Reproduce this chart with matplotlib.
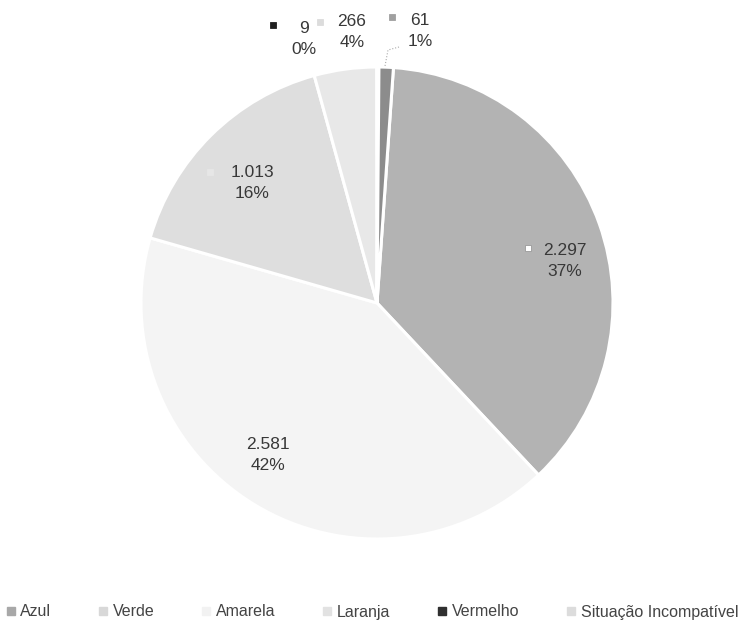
import matplotlib.pyplot as plt
from matplotlib.lines import Line2D

plt.rcParams['font.family'] = ['Liberation Sans', 'DejaVu Sans']

# data
categories = ['Azul', 'Verde', 'Amarela', 'Laranja', 'Vermelho', 'Situação Incompatível']
values = [2297, 2581, 1013, 266, 9, 61]
percents = [37, 42, 16, 4, 0, 1]

slice_colors = ['#b3b3b3', '#f4f4f4', '#dedede', '#e8e8e8', '#505050', '#8c8c8c']
legend_colors = ['#a8a8a8', '#d8d8d8', '#f2f2f2', '#e2e2e2', '#303030', '#dcdcdc']
key_colors = ['#ffffff', '#f4f4f4', '#e6e6e6', '#dcdcdc', '#202020', '#a0a0a0']

# pixel layout of the reference (centre of pie and radius)
CX, CY, R = 377, 303, 236
W, H = 738, 644


def px(x, y):
    return (x - CX) / R, (CY - y) / R


# label centres and legend-key positions in pixels
label_pos = [(565, 261), (268, 455), (252, 183), (352, 32), (304, 39), (420, 31)]
key_pos = [(528, 248), None, (210, 172), (320, 22), (273, 25), (392, 17)]

fig = plt.figure(figsize=(W / 100, H / 100), dpi=100)
ax = fig.add_axes([0, 0, 1, 1])
ax.axis('off')

ax.pie(values, colors=slice_colors, startangle=86, counterclock=False,
       radius=1.0, center=(0, 0), frame=False,
       wedgeprops=dict(edgecolor='white', linewidth=2.2))
ax.set_xlim(-CX / R, (W - CX) / R)
ax.set_ylim((CY - H) / R, CY / R)
ax.set_aspect('auto')

for i, v in enumerate(values):
    txt = f"{v:,}".replace(',', '.') + "\n" + f"{percents[i]}%"
    x, y = px(*label_pos[i])
    ax.text(x, y, txt, ha='center', va='center', fontsize=12.5,
            color='#383838', linespacing=1.45)
    if key_pos[i] is not None:
        kx, ky = px(*key_pos[i])
        ax.plot(kx, ky, marker='s', ms=5, color=key_colors[i],
                markeredgecolor='#999999' if i == 0 else key_colors[i], mew=0.6)

# leader line for the small slice
lx, ly = zip(*[px(399, 47), px(388, 50), px(385, 66)])
ax.plot(lx, ly, color='#aaaaaa', lw=0.8, ls=':')

handles = [Line2D([], [], marker='s', ls='none', ms=6, color=c) for c in legend_colors]
fig.legend(handles, categories, loc='center', ncol=6,
           bbox_to_anchor=(372 / W, 1 - 612 / H), frameon=False,
           fontsize=11.5, handlelength=0.6, handletextpad=0.3,
           columnspacing=2.95, labelcolor='#444444')

fig.savefig('out.png', dpi=100)
